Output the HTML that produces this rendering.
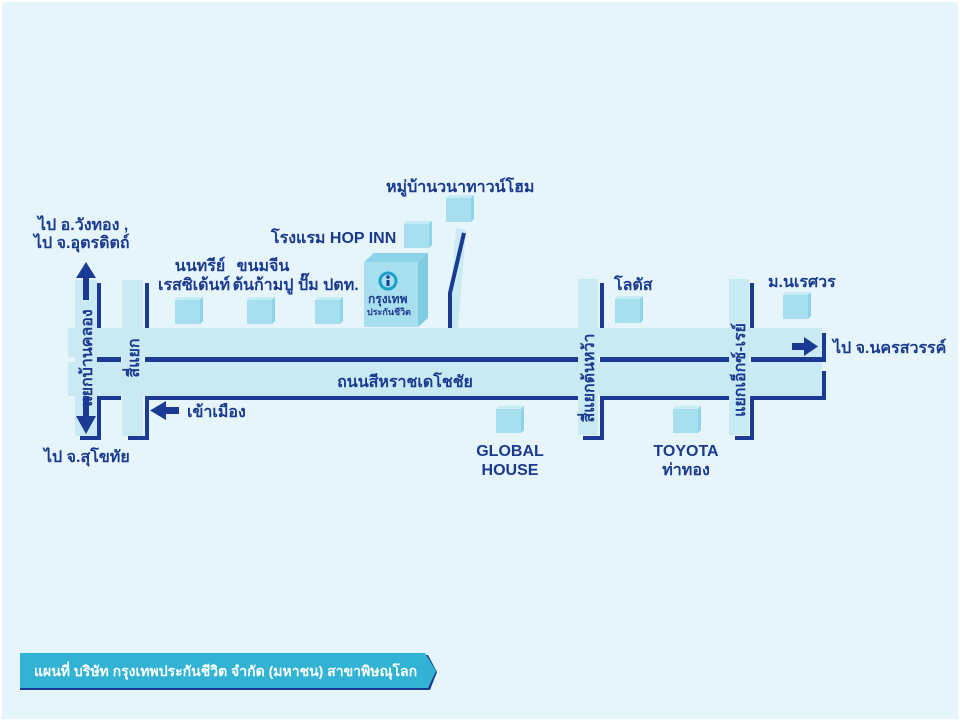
<!DOCTYPE html>
<html><head><meta charset="utf-8"><style>
html,body{margin:0;padding:0;background:#fff}
svg{display:block}
text{font-family:"Liberation Sans","DejaVu Sans",sans-serif;font-weight:bold;fill:#1b3a8f;font-size:16px}
</style></head><body>
<svg width="960" height="721" viewBox="0 0 960 721">
<rect x="2" y="2" width="956" height="717" fill="#e6f5fa"/>
<!-- light roads -->
<g fill="#c9e9f3">
<rect x="68" y="328" width="754" height="29"/>
<rect x="68" y="362" width="754" height="34"/>
<rect x="75" y="280" width="22" height="156"/>
<rect x="122" y="280" width="21" height="156"/>
<rect x="578" y="279" width="20" height="156"/>
<rect x="729" y="279" width="20" height="156"/>
<polygon points="456,228 466,230 458,328 448,328"/>
</g>
<!-- dark lines -->
<g fill="#1a3a94">
<rect x="97" y="283" width="4" height="45"/>
<rect x="145" y="283" width="4" height="45"/>
<rect x="600" y="283" width="4" height="45"/>
<rect x="750" y="283" width="4" height="45"/>
<rect x="97" y="357" width="24" height="5"/>
<rect x="145" y="357" width="433" height="5"/>
<rect x="600" y="357" width="129" height="5"/>
<rect x="751" y="357" width="75" height="5"/>
<rect x="97" y="396" width="24" height="4"/>
<rect x="145" y="396" width="433" height="4"/>
<rect x="600" y="396" width="129" height="4"/>
<rect x="751" y="396" width="75" height="4"/>
<rect x="97" y="396" width="4" height="44"/>
<rect x="80" y="436" width="21" height="4"/>
<rect x="145" y="396" width="4" height="44"/>
<rect x="128" y="436" width="21" height="4"/>
<rect x="600" y="396" width="4" height="44"/>
<rect x="583" y="436" width="21" height="4"/>
<rect x="750" y="396" width="4" height="44"/>
<rect x="735" y="436" width="19" height="4"/>
<rect x="822" y="333" width="4" height="29"/>
<rect x="822" y="371" width="4" height="29"/>
</g>
<polyline points="464,233 450,293 450,328" fill="none" stroke="#1a3a94" stroke-width="4"/>
<!-- arrows -->
<g fill="#1a3a94">
<rect x="83" y="276" width="6" height="24"/><polygon points="76,278 86,262 96,278"/>
<rect x="83" y="396" width="6" height="22"/><polygon points="76,416 86,434 96,416"/>
<rect x="164" y="407" width="15" height="7"/><polygon points="166,401 150,410.5 166,420"/>
<rect x="792" y="343" width="14" height="7"/><polygon points="804,337 818,346.5 804,356"/>
</g>
<!-- cubes -->
<defs>
<g id="cube"><polygon points="0,3 3,0 28,0 28,24 25,27 0,27" fill="#a8dfee"/><polygon points="0,3 3,0 28,0 25,3" fill="#c6ecf6"/><polygon points="25,3 28,0 28,24 25,27" fill="#8fd3e8"/></g>
</defs>
<use href="#cube" x="175" y="297"/>
<use href="#cube" x="247" y="297"/>
<use href="#cube" x="315" y="297"/>
<use href="#cube" x="404" y="221"/>
<use href="#cube" x="446" y="195"/>
<use href="#cube" x="615" y="296"/>
<use href="#cube" x="783" y="292"/>
<use href="#cube" x="496" y="406"/>
<use href="#cube" x="673" y="406"/>
<!-- BBL building -->
<polygon points="364,262 374,253 428,253 428,318 418,327 364,327" fill="#a8dfee"/>
<polygon points="364,262 374,253 428,253 418,262" fill="#8dd4e8"/>
<polygon points="418,262 428,253 428,318 418,327" fill="#7fcbe2"/>
<circle cx="388" cy="281" r="8" fill="none" stroke="#1aa0c8" stroke-width="3"/>
<circle cx="388" cy="277" r="1.8" fill="#1b3a8f"/><rect x="386.5" y="280" width="3" height="6" fill="#1b3a8f"/>
<text x="368" y="303" style="font-size:12px">กรุงเทพ</text>
<text x="367" y="315" style="font-size:9px">ประกันชีวิต</text>
<!-- labels -->
<text x="38" y="230">ไป อ.วังทอง ,</text>
<text x="34" y="248">ไป จ.อุตรดิตถ์</text>
<text x="200" y="271" text-anchor="middle">นนทรีย์</text>
<text x="194" y="290" text-anchor="middle">เรสซิเด้นท์</text>
<text x="263" y="271" text-anchor="middle">ขนมจีน</text>
<text x="263" y="290" text-anchor="middle">ต้นก้ามปู</text>
<text x="298" y="290">ปั๊ม ปตท.</text>
<text x="271" y="243">โรงแรม HOP INN</text>
<text x="386" y="192">หมู่บ้านวนาทาวน์โฮม</text>
<text x="614" y="290">โลตัส</text>
<text x="768" y="287">ม.นเรศวร</text>
<text x="833" y="353">ไป จ.นครสวรรค์</text>
<text x="405" y="387" text-anchor="middle">ถนนสีหราชเดโชชัย</text>
<text x="187" y="417">เข้าเมือง</text>
<text x="44" y="462">ไป จ.สุโขทัย</text>
<text x="510" y="456" text-anchor="middle">GLOBAL</text>
<text x="510" y="475" text-anchor="middle">HOUSE</text>
<text x="686" y="456" text-anchor="middle">TOYOTA</text>
<text x="686" y="475" text-anchor="middle">ท่าทอง</text>
<text transform="translate(92,358) rotate(-90)" text-anchor="middle">แยกบ้านคลอง</text>
<text transform="translate(139,358) rotate(-90)" text-anchor="middle">สี่แยก</text>
<text transform="translate(594,378) rotate(-90)" text-anchor="middle">สี่แยกต้นหว้า</text>
<text transform="translate(745,370) rotate(-90)" text-anchor="middle">แยกเอ็กซ์-เรย์</text>
<!-- banner -->
<polygon points="20,655 428,655 437,672 430,690 20,690" fill="#1a3a94"/>
<polygon points="20,653 425,653 436,671 428,688 20,688" fill="#33b3d4"/>
<text x="34" y="676" style="fill:#fff;font-size:14px">แผนที่ บริษัท กรุงเทพประกันชีวิต จำกัด (มหาชน) สาขาพิษณุโลก</text>
</svg>
</body></html>
